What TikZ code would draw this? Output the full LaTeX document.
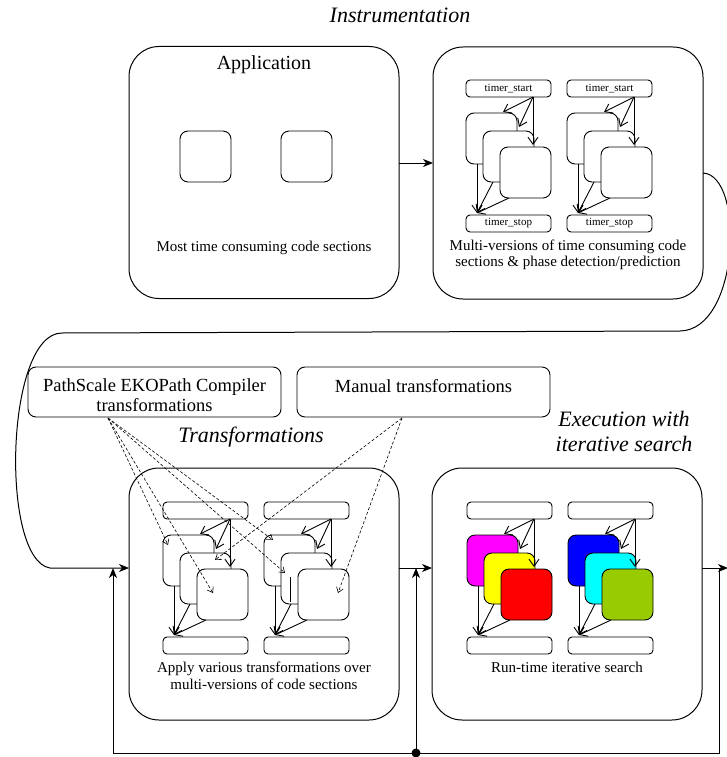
\documentclass[tikz,border=0pt]{standalone}
\usepackage{fontspec}
\setmainfont{Liberation Serif}
\newfontfamily\tms{Liberation Serif}
\usetikzlibrary{arrows.meta,calc}
\definecolor{cMag}{RGB}{255,0,255}
\definecolor{cYel}{RGB}{255,255,0}
\definecolor{cRed}{RGB}{255,0,0}
\definecolor{cBlue}{RGB}{0,0,255}
\definecolor{cCyan}{RGB}{0,255,255}
\definecolor{cOlive}{RGB}{153,204,0}
\tikzset{
  bigbox/.style={draw, line width=1pt, rounded corners=30pt, minimum width=270pt, minimum height=252pt, inner sep=0pt, outer sep=0pt},
  tbox/.style={draw, line width=0.9pt, rounded corners=4pt, fill=white, minimum width=85pt, minimum height=17pt, inner sep=0pt, outer sep=0pt, font=\tms\fontsize{11}{12}\selectfont},
  sq/.style={draw, line width=0.9pt, rounded corners=8pt, minimum size=51pt, inner sep=0pt, outer sep=0pt},
  srcbox/.style={draw, line width=0.9pt, rounded corners=8pt, inner sep=0pt, outer sep=0pt},
  inarr/.style={line width=0.9pt, -{Straight Barb[length=7pt,width=10pt]}},
  dsh/.style={line width=0.6pt, dash pattern=on 3pt off 2pt, -{Straight Barb[length=5pt,width=7pt]}},
  fb/.style={line width=1pt, -{Stealth[length=10pt,width=8pt,inset=3pt]}},
  ttl/.style={font=\tms\fontsize{22}{25}\selectfont\itshape, align=center},
  txt/.style={font=\tms\fontsize{15}{16.5}\selectfont, align=center},
}
\newcommand\grp[8]{%
  \begin{scope}[shift={(#2,#3)}]
    \node[tbox] (#1ts) at (42.5,8.5) {#7};
    \node[sq,fill=#4] (#1a) at (25.5,58.5) {};
    \node[sq,fill=#5] (#1b) at (42.5,76.5) {};
    \node[sq,fill=#6] (#1c) at (59.5,92.5) {};
    \node[tbox] (#1tp) at (42.5,143.5) {#8};
  \end{scope}
  \coordinate (#1s) at ($(#1ts.south east)+(-18,0)$);
  \coordinate (#1t) at ($(#1tp.north west)+(11,-2)$);
  \draw[inarr] (#1s) -- ($(#1a.north east)+(-14,-1)$);
  \draw[inarr] (#1s) -- ($(#1b.north east)+(-15,-4)$);
  \draw[inarr] (#1s) -- ($(#1c.north)+(7.5,-2)$);
  \draw[inarr] ($(#1a.south west)+(11,0)$) -- (#1t);
  \draw[inarr] ($(#1b.south west)+(10,0)$) -- (#1t);
  \draw[inarr] ($(#1c.south west)+(9,0)$) -- (#1t);
}
\begin{document}
\begin{tikzpicture}[x=1pt,y=-1pt]
\useasboundingbox (0,0) rectangle (727,757);

% titles
\node[ttl] (tinst) at (400,15) {Instrumentation};
\node[ttl] (ttrans) at (251,437) {Transformations};
\node[ttl] (texec) at (624,431) {Execution with\\iterative search};

% big boxes
\node[bigbox] (B1) at (264,172.5) {};
\node[bigbox] (B2) at (568,173) {};
\node[bigbox] (B3) at (264,594) {};
\node[bigbox] (B4) at (567,594) {};

% box 1 contents
\node[font=\tms\fontsize{20}{22}\selectfont] (app) at (264,65) {Application};
\node[sq] (s1) at (205.5,156.5) {};
\node[sq] (s2) at (306.5,156.5) {};
\node[txt] (mtc) at (264,248) {Most time consuming code sections};

% box 2 contents
\grp{g1}{466}{80}{white}{white}{white}{timer\_start}{timer\_stop}
\grp{g2}{567}{80}{white}{white}{white}{timer\_start}{timer\_stop}
\node[txt] (mv) at (568,255) {Multi-versions of time consuming code\\sections \& phase detection/prediction};

% box 3 contents
\grp{g3}{163}{502}{white}{white}{white}{}{}
\grp{g4}{264}{502}{white}{white}{white}{}{}
\coordinate (vq1) at (290,577);
\coordinate (vq2) at (290,602);
\draw[line width=1pt] (vq1) -- (vq2);
\node[txt] (apv) at (264,676) {Apply various transformations over\\multi-versions of code sections};

% box 4 contents
\grp{g5}{467}{502}{cMag}{cYel}{cRed}{}{}
\grp{g6}{568}{502}{cBlue}{cCyan}{cOlive}{}{}
\node[txt] (rts) at (567,667) {Run-time iterative search};

% transformation sources
\node[srcbox, minimum width=253pt, minimum height=50pt] (ps) at (154.5,392) {};
\node[font=\tms\fontsize{18.5}{20}\selectfont, align=center] (pst) at (154.5,395) {PathScale EKOPath Compiler\\transformations};
\node[srcbox, minimum width=253pt, minimum height=50pt] (man) at (423.5,392) {};
\node[font=\tms\fontsize{18.5}{20}\selectfont] (mant) at (423.5,386) {Manual transformations};

% dashed arrows
\coordinate (psrc) at (108,418);
\coordinate (msrc) at (402,418);
\coordinate (d1) at (168,545);
\coordinate (d2) at (213,593);
\coordinate (d3) at (273,540);
\coordinate (d4) at (285,573);
\coordinate (d5) at (215,560);
\coordinate (d6) at (338,593);
\draw[dsh] (psrc) -- (d1);
\draw[dsh] (psrc) -- (d2);
\draw[dsh] (psrc) -- (d3);
\draw[dsh] (psrc) -- (d4);
\draw[dsh] (msrc) -- (d5);
\draw[dsh] (msrc) -- (d6);

% flow connectors
\coordinate (h1) at (0,163);
\coordinate (h2) at (0,568);
\draw[fb] (B1.east |- h1) -- (B2.west |- h1);
\coordinate (c1) at (680,331);
\coordinate (c2) at (62,333);
\coordinate (c3) at (50,568);
\draw[fb] (B2.east) .. controls (745,175) and (740,330) .. (c1) -- (c2)
  .. controls (5,333) and (0,560) .. (c3) -- (B3.west |- h2);
\draw[fb] (B3.east |- h2) -- (B4.west |- h2);
\coordinate (rend) at (728,568);
\draw[fb] (B4.east |- h2) -- (rend);
\coordinate (rc) at (719,568);
\coordinate (rb) at (719,753);
\coordinate (lb) at (113,753);
\coordinate (lt) at (113,568);
\draw[fb] (rc) -- (rb) -- (lb) -- (lt);
\coordinate (dot) at (416,753);
\draw[fb] (dot) -- (dot |- h2);
\fill (dot) circle (4.5pt);
\end{tikzpicture}
\end{document}
